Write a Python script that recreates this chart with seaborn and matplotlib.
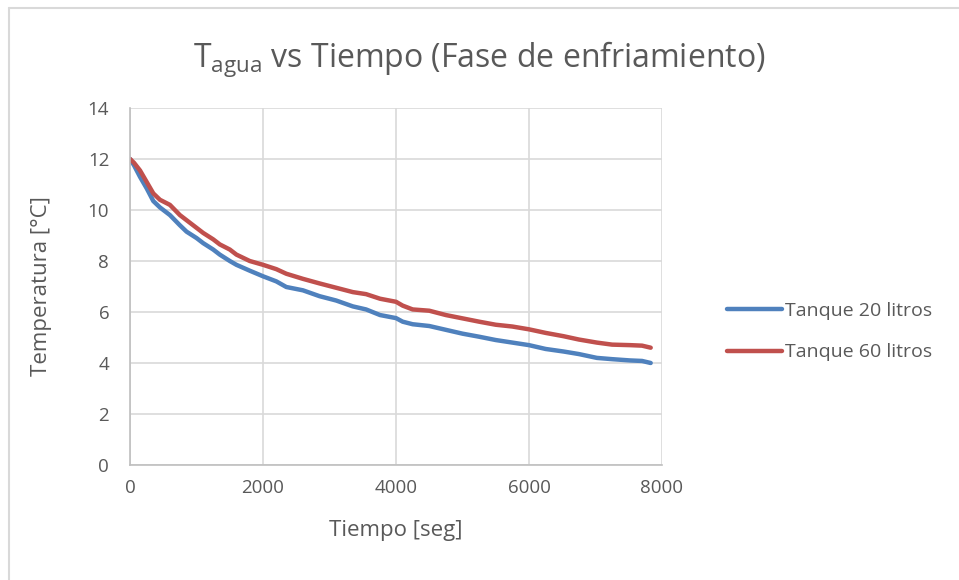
import matplotlib

matplotlib.use("Agg")
import matplotlib.pyplot as plt
from matplotlib.lines import Line2D
import pandas as pd
import seaborn as sns

# lecturas aproximadas del grafico original
tiempo_20 = [0, 60, 150, 250, 350, 450, 600, 750, 850, 1000, 1100, 1250, 1350, 1500, 1600,
             1800, 2000, 2200, 2350, 2600, 2850, 3100, 3350, 3550, 3760, 4000, 4100, 4250,
             4500, 4750, 5000, 5250, 5500, 5750, 6000, 6250, 6520, 6750, 7020, 7250, 7520,
             7700, 7830]
temp_20 = [12.0, 11.75, 11.3, 10.85, 10.35, 10.1, 9.8, 9.4, 9.15, 8.9, 8.7, 8.45, 8.25, 8.0, 7.85,
           7.62, 7.4, 7.2, 6.98, 6.85, 6.62, 6.45, 6.22, 6.1, 5.88, 5.76, 5.62, 5.52,
           5.45, 5.3, 5.15, 5.03, 4.9, 4.8, 4.7, 4.55, 4.45, 4.35, 4.2, 4.15, 4.1,
           4.08, 4.0]

tiempo_60 = [0, 60, 150, 250, 350, 450, 600, 750, 850, 1000, 1100, 1250, 1350, 1500, 1600,
             1800, 2000, 2200, 2350, 2600, 2850, 3100, 3350, 3550, 3760, 4000, 4100, 4250,
             4500, 4750, 5000, 5250, 5500, 5750, 6000, 6250, 6520, 6750, 7020, 7250, 7520,
             7700, 7830]
temp_60 = [12.0, 11.85, 11.55, 11.1, 10.65, 10.4, 10.2, 9.8, 9.6, 9.3, 9.1, 8.85, 8.65, 8.45, 8.25,
           8.0, 7.85, 7.68, 7.5, 7.3, 7.12, 6.95, 6.78, 6.7, 6.52, 6.4, 6.25, 6.1,
           6.05, 5.88, 5.75, 5.62, 5.5, 5.43, 5.32, 5.18, 5.05, 4.92, 4.8, 4.72, 4.7,
           4.68, 4.6]

series = ["Tanque 20 litros", "Tanque 60 litros"]
colores = ["#4f81bd", "#c0504d"]

texto = "#595959"

sns.set_theme(style="white")
plt.rcParams["font.family"] = ["Open Sans", "DejaVu Sans"]

df = pd.concat([
    pd.DataFrame({"Tiempo": tiempo_20, "Temp": temp_20, "Serie": series[0]}),
    pd.DataFrame({"Tiempo": tiempo_60, "Temp": temp_60, "Serie": series[1]}),
])

fig = plt.figure(figsize=(9.59, 5.8), dpi=100)
ax = fig.add_axes([0.1356, 0.1983, 0.5547, 0.6155])

sns.lineplot(data=df, x="Tiempo", y="Temp", hue="Serie", palette=colores,
             linewidth=3.2, ax=ax, legend=False, sort=False)

ax.set_xlim(0, 8000)
ax.set_ylim(0, 14)
ax.set_xticks(range(0, 8001, 2000))
ax.set_yticks(range(0, 15, 2))
ax.grid(True, color="#d9d9d9", linewidth=1.2)
ax.set_axisbelow(True)
for lado in ["top", "right"]:
    ax.spines[lado].set_visible(False)
for lado in ["left", "bottom"]:
    ax.spines[lado].set_color("#bfbfbf")
    ax.spines[lado].set_linewidth(1.2)
ax.tick_params(axis="both", length=0, labelsize=13.5, labelcolor=texto)
ax.tick_params(axis="y", pad=15)
ax.tick_params(axis="x", pad=10)
ax.set_xlabel("Tiempo [seg]", fontsize=16, color=texto, labelpad=17)
ax.set_ylabel("Temperatura [°C]", fontsize=16, color=texto, labelpad=26)

fig.text(0.5, 0.898, r"T$_{\mathregular{agua}}$ vs Tiempo (Fase de enfriamiento)",
         ha="center", va="center", fontsize=23, color=texto)

handles = [Line2D([0], [0], color=c, linewidth=3.2) for c in colores]
fig.legend(handles, series, loc="center left", bbox_to_anchor=(0.740, 0.428),
           frameon=False, fontsize=14, labelcolor=texto, handlelength=2.8,
           handletextpad=0.2, labelspacing=1.2)

# marco del grafico
fig.add_artist(Line2D([9 / 959, 1], [1 - 8 / 580, 1 - 8 / 580], color="#d9d9d9",
                      linewidth=1.5, transform=fig.transFigure))
fig.add_artist(Line2D([9 / 959, 9 / 959], [0, 1 - 8 / 580], color="#d9d9d9",
                      linewidth=1.5, transform=fig.transFigure))

fig.savefig("out.png", dpi=100, facecolor="white")
